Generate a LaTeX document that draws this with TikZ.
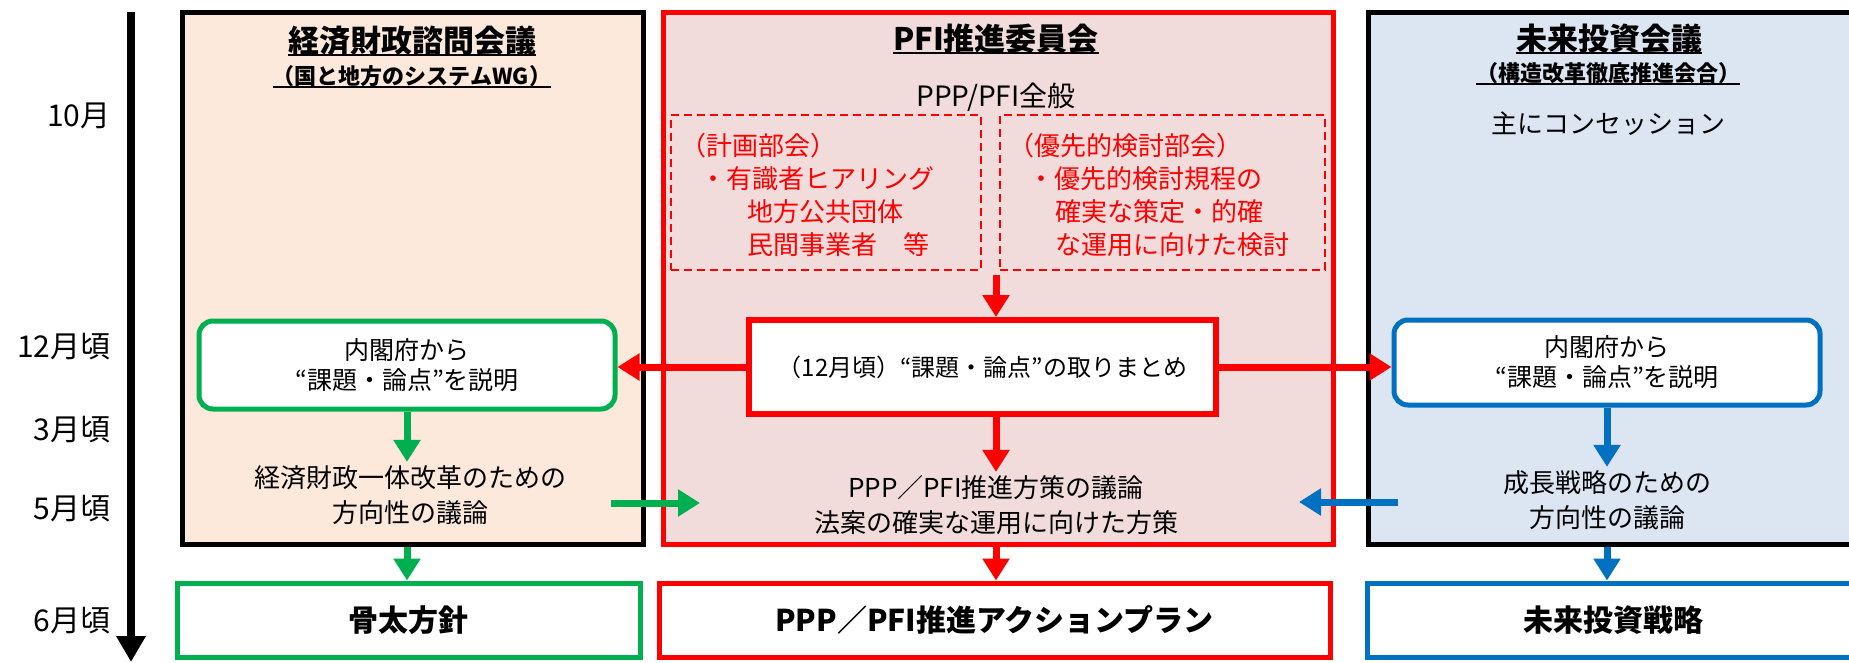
\documentclass[tikz,border=0pt]{standalone}
\usepackage{fontspec}
\setmainfont{Noto Sans CJK JP}
\usetikzlibrary{arrows.meta}
\definecolor{peach}{HTML}{FCE9DB}
\definecolor{rosy}{HTML}{F2DCDB}
\definecolor{paleblue}{HTML}{DCE6F2}
\definecolor{grn}{HTML}{00B050}
\definecolor{rd}{HTML}{FF0000}
\definecolor{bl}{HTML}{0070C0}
\newcommand{\ulined}[1]{\setbox0\hbox{#1}\rlap{\rule[-4pt]{\wd0}{2pt}}\box0}
\tikzset{
  panel/.style={draw=black, line width=5pt, minimum height=531pt, inner sep=0pt},
  ttl/.style={font=\fontsize{31}{36}\selectfont\bfseries, inner sep=0pt},
  subhead/.style={font=\fontsize{22}{26}\selectfont\bfseries, inner sep=0pt},
  body/.style={align=center, font=\fontsize{26}{35}\selectfont},
  subgroup/.style={draw=rd, line width=2pt, dash pattern=on 8pt off 5pt, minimum height=155pt},
  subtext/.style={anchor=west, align=left, inner sep=0pt, text=rd, font=\fontsize{26}{33}\selectfont},
  talk/.style={draw, line width=5pt, fill=white, rounded corners=14pt, align=center, font=\fontsize{25}{30}\selectfont},
  sumbox/.style={draw=rd, line width=6pt, fill=white, align=center, font=\fontsize{24}{30}\selectfont},
  result/.style={draw, line width=5pt, fill=white, minimum height=74pt, font=\fontsize{30}{34}\selectfont\bfseries},
  month/.style={anchor=east, font=\fontsize{30}{32}\selectfont},
  flow/.style={line width=7pt, -{Triangle[length=22pt,width=26pt]}}
}
\begin{document}
\begin{tikzpicture}[x=1pt,y=-1pt]
  \useasboundingbox (0,0) rectangle (1849,663);
  \node[panel, fill=peach, minimum width=461pt] (cefp) at (412.5,278.5) {};
  \node[panel, draw=rd, fill=rosy, minimum width=670pt] (pfic) at (998,278.5) {};
  \node[panel, fill=paleblue, minimum width=492pt] (fic) at (1614,278.5) {};

  \node[ttl] (cefpT) at (412,41) {\ulined{経済財政諮問会議}};
  \node[subhead] (cefpS) at (412,77) {\ulined{（国と地方のシステムWG）}};
  \node[ttl] (pficT) at (996,39) {\ulined{PFI推進委員会}};
  \node[body, font=\fontsize{28}{35}\selectfont] (pficG) at (996,97) {PPP/PFI全般};
  \node[ttl] (ficT) at (1609,39) {\ulined{未来投資会議}};
  \node[subhead] (ficS) at (1608,74) {\ulined{（構造改革徹底推進会合）}};
  \node[body] (ficG) at (1608,124) {主にコンセッション};

  \node[subgroup, minimum width=310pt] (plan) at (826,192.5) {};
  \node[subgroup, minimum width=325pt] (prio) at (1162.5,192.5) {};
  \node[subtext] (planT) at (680,195) {（計画部会）\\\hspace*{20pt}・有識者ヒアリング\\\hspace*{67pt}地方公共団体\\\hspace*{67pt}民間事業者　等};
  \node[subtext] (prioT) at (1008,195) {（優先的検討部会）\\\hspace*{20pt}・優先的検討規程の\\\hspace*{47pt}確実な策定・的確\\\hspace*{47pt}な運用に向けた検討};

  \node[talk, draw=grn, minimum width=416pt, minimum height=88pt] (grnX) at (407,365) {内閣府から\\“課題・論点”を説明};
  \node[sumbox, minimum width=467pt, minimum height=94pt] (sumX) at (982.5,367) {（12月頃）“課題・論点”の取りまとめ};
  \node[talk, draw=bl, minimum width=426pt, minimum height=85pt] (blX) at (1607,362.5) {内閣府から\\“課題・論点”を説明};

  \node[body] (cefpD) at (410,495) {経済財政一体改革のための\\方向性の議論};
  \node[body] (pficD) at (996,505) {PPP／PFI推進方策の議論\\法案の確実な運用に向けた方策};
  \node[body] (ficD) at (1607,500) {成長戦略のための\\方向性の議論};

  \node[result, draw=grn, minimum width=463pt] (honebuto) at (408.5,620) {骨太方針};
  \node[result, draw=rd, minimum width=671pt] (actplan) at (994.5,620) {PPP／PFI推進アクションプラン};
  \node[result, draw=bl, minimum width=493pt] (strat) at (1613.5,620) {未来投資戦略};

  \foreach \m/\y in {10月/116,12月頃/347,3月頃/430,5月頃/509,6月頃/621}
    \node[month] (mon\y) at (114,\y) {\m};
  \coordinate (tTop) at (131,12);
  \coordinate (tEnd) at (131,662);
  \draw[line width=8pt, -{Triangle[length=26pt,width=28pt]}] (tTop) -- (tEnd);

  \draw[flow, grn] (grnX.south) -- (grnX.south |- cefpD.north);
  \draw[flow, grn] (cefp.south -| grnX.south) -- (honebuto.north -| grnX.south);
  \draw[flow, rd] (sumX.west) -- (sumX.west -| grnX.east);
  \draw[flow, rd] (sumX.east) -- (sumX.east -| blX.west);
  \draw[flow, rd, shorten <=4pt] (plan.south -| pficD.north) -- (sumX.north -| pficD.north);
  \draw[flow, rd] (sumX.south -| pficD.north) -- (pficD.north);
  \draw[flow, rd] (pfic.south -| pficD.north) -- (actplan.north -| pficD.north);
  \draw[flow, bl] (blX.south) -- (blX.south |- ficD.north);
  \draw[flow, bl] (fic.south -| blX.south) -- (strat.north -| blX.south);
  \coordinate (gA) at (611,503);
  \coordinate (gB) at (700,503);
  \draw[flow, grn] (gA) -- (gB);
  \coordinate (bA) at (1398,502);
  \coordinate (bB) at (1299,502);
  \draw[flow, bl] (bA) -- (bB);
\end{tikzpicture}
\end{document}
